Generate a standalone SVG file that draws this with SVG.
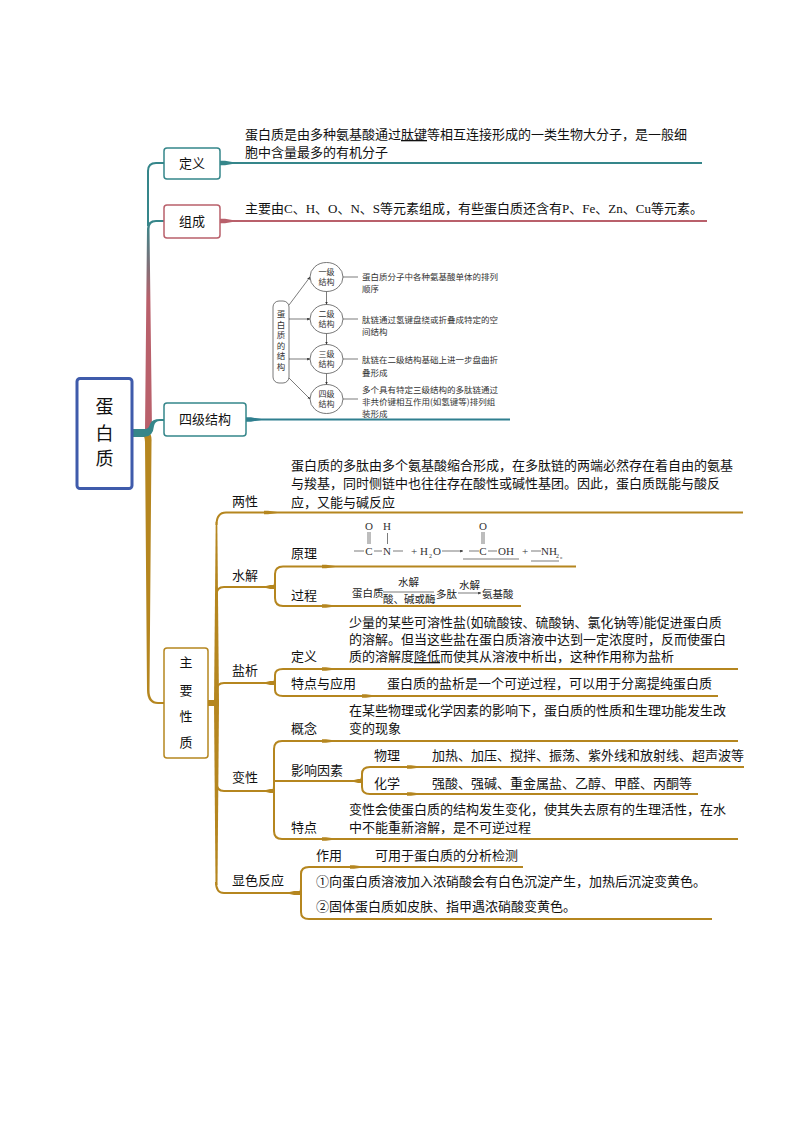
<svg xmlns="http://www.w3.org/2000/svg" width="794" height="1123" viewBox="0 0 794 1123">
<style>
text{font-family:"Noto Sans CJK SC","Liberation Sans",sans-serif;font-size:13px;fill:#111}
.s{font-size:8.500px;fill:#333}
.e{font-size:8px;fill:#333}
.f{font-family:"Liberation Serif","Noto Sans CJK SC",serif;font-size:11px;fill:#333}
.l{font-family:"Liberation Serif","Noto Sans CJK SC",serif}
.p{font-size:10.500px;fill:#222}
.g{fill:none;stroke:#b5861f;stroke-width:2}
.gf{fill:#b5861f}
.box{fill:#fff;stroke-width:1.500}
.thin{fill:none;stroke:#444;stroke-width:.7}
.u{text-decoration:underline}
</style>
<defs>
<linearGradient id="tr" gradientUnits="userSpaceOnUse" x1="0" y1="221" x2="0" y2="300"><stop offset="0" stop-color="#35868a"/><stop offset="1" stop-color="#b9606b"/></linearGradient>
<path id="taper" d="M0,-2.200 L5,-2.200 L18,0 L5,2.200 L0,2.200Z"/>
<path id="gt" class="gf" d="M0,-1.800 L4,-1.800 L17,0 L4,1.800 L0,1.800Z"/>
<marker id="ah" markerWidth="5" markerHeight="5" refX="4" refY="2" orient="auto"><path d="M0,0 L4,2 L0,4Z" fill="#333"/></marker>
</defs>
<g id="connectors">
<path d="M148,226 V171 Q148,163 156,163 H164" fill="none" stroke="#35868a" stroke-width="2"/>
<path d="M164,220 H156 Q147,220 147,229 L145,430 H152 L149.500,229 Q149.500,222 156,222 H164 Z" fill="url(#tr)"/>
<path d="M145,433 H148 Q152,433 151.500,442 L149.500,690 Q149.500,702 158,702 H164 V704 H158 Q147,704 147,690 L145,442 Q145,436 141,433 Z" fill="#b5861f"/>
<path d="M132,429 H145 Q149,429 150,424 Q152,419 160,419 H164 V421 H160 Q155,421 154,426 Q153,437 144,437 H132Z" fill="#35868a"/>
<path d="M220,163 H702" fill="none" stroke="#35868a" stroke-width="2"/>
<use href="#taper" x="220" y="163" fill="#35868a"/>
<path d="M220,221 H707" fill="none" stroke="#b9606b" stroke-width="2"/>
<use href="#taper" x="220" y="221" fill="#b9606b"/>
<path d="M246,419.500 H510" fill="none" stroke="#2f7f8f" stroke-width="2"/>
<use href="#taper" x="246" y="419.500" fill="#2f7f8f"/>
<path class="g" d="M216.500,525 Q216.500,512.500 226,512.500 H743"/>
<path d="M215.700,522 H217.300 L219,703 L217.500,885 H215.500 L214,703Z" class="gf"/>
<path class="g" d="M216,882 Q216,893 224,893 H296"/>
<path d="M208,700 H214 L216,697 L218,697 L218,706 H208Z" class="gf"/>
<path class="g" d="M216.500,595 Q216.500,587 224,587 H268"/>
<path class="g" d="M216.500,691 Q216.500,683 224,683 H268"/>
<path class="g" d="M216.500,782 Q216.500,791 224,791 H268"/>
<path class="g" d="M268,587 H272 Q275,587 275,582 V574 Q275,566.500 283,566.500 H576"/>
<path class="g" d="M275,582 V598 Q275,606 283,606 H521"/>
<path class="g" d="M268,683 H272 Q275,683 275,678 V675 Q275,669 283,669 H738"/>
<path class="g" d="M275,678 V690 Q275,696 283,696 H718"/>
<path class="g" d="M268,791 H272 Q274,791 274,785 V749 Q274,741 282,741 H738"/>
<path class="g" d="M274,785 V831 Q274,839 282,839 H738"/>
<path class="g" d="M274,781 H358 Q362,781 362,776 V774 Q362,767 370,767 H744"/>
<path class="g" d="M362,776 V787 Q362,794 370,794 H698"/>
<path class="g" d="M296,893 H298 Q301,893 301,888 V874 Q301,867 309,867 H523"/>
<path class="g" d="M301,888 V912 Q301,919 309,919 H712"/>
<use href="#gt" x="264" y="512.500"/><use href="#gt" x="322" y="566.500"/><use href="#gt" x="322" y="606"/>
<use href="#gt" x="322" y="669"/><use href="#gt" x="362" y="696"/><use href="#gt" x="322" y="741"/>
<use href="#gt" x="322" y="839"/><use href="#gt" x="407" y="767"/><use href="#gt" x="407" y="794"/>
<use href="#gt" x="350" y="867"/>
<path class="gf" d="M262,587 L270,585 H275 V589 H270Z M262,683 L270,681 H275 V685 H270Z M262,791 L270,789 H275 V793 H270Z M285,893 L294,891 H301 V895 H294Z M350,781 L358,779 H362 V783 H358Z"/>
</g>
<g id="root"><rect x="77" y="378.500" width="55" height="110" rx="3" fill="#fff" stroke="#3f5bab" stroke-width="3"/>
<text text-anchor="middle" style="font-size:18px"><tspan x="104.500" y="412.500">蛋</tspan><tspan x="104.500" y="439.500">白</tspan><tspan x="104.500" y="465">质</tspan></text></g>
<g id="node-def"><rect class="box" x="164" y="148" width="56" height="31" rx="3" stroke="#35868a"/><text x="192" y="168" text-anchor="middle">定义</text>
<text x="245" y="139">蛋白质是由多种氨基酸通过<tspan class="u">肽键</tspan>等相互连接形成的一类生物大分子，是一般细</text><text x="245" y="157">胞中含量最多的有机分子</text></g>
<g id="node-comp"><rect class="box" x="164" y="205" width="56" height="33" rx="3" stroke="#b9606b"/><text x="192" y="226" text-anchor="middle">组成</text>
<text class="l" x="245" y="213">主要由C、H、O、N、S等元素组成，有些蛋白质还含有P、Fe、Zn、Cu等元素。</text></g>
<g id="node-struct"><rect class="box" x="164" y="403" width="82" height="33" rx="3" stroke="#35868a"/><text x="205" y="424" text-anchor="middle">四级结构</text></g>
<g id="struct-figure">
<rect x="273" y="301" width="16" height="82" rx="6" fill="#fff" stroke="#555" stroke-width=".8"/>
<text class="s" text-anchor="middle"><tspan x="281" y="317">蛋</tspan><tspan x="281" y="327.500">白</tspan><tspan x="281" y="338">质</tspan><tspan x="281" y="348.500">的</tspan><tspan x="281" y="359">结</tspan><tspan x="281" y="369.500">构</tspan></text>
<g fill="#fff" stroke="#555" stroke-width=".8"><ellipse cx="326.500" cy="277" rx="16.500" ry="14.500"/><ellipse cx="326.500" cy="319" rx="16.500" ry="14.500"/><ellipse cx="326.500" cy="359" rx="16.500" ry="14.500"/><ellipse cx="326.500" cy="399" rx="16.500" ry="14.500"/></g>
<text class="e" text-anchor="middle"><tspan x="326.500" y="274.500">一级</tspan><tspan x="326.500" y="285">结构</tspan></text>
<text class="e" text-anchor="middle"><tspan x="326.500" y="316.500">二级</tspan><tspan x="326.500" y="327">结构</tspan></text>
<text class="e" text-anchor="middle"><tspan x="326.500" y="356.500">三级</tspan><tspan x="326.500" y="367">结构</tspan></text>
<text class="e" text-anchor="middle"><tspan x="326.500" y="396.500">四级</tspan><tspan x="326.500" y="407">结构</tspan></text>
<path class="thin" d="M289,305 L310,277" marker-end="url(#ah)"/><path class="thin" d="M289,319 H310" marker-end="url(#ah)"/><path class="thin" d="M289,359 H310" marker-end="url(#ah)"/><path class="thin" d="M289,378 L310,399" marker-end="url(#ah)"/><path class="thin" d="M326.500,291.500 V304.500" marker-end="url(#ah)"/><path class="thin" d="M326.500,333.500 V344.500" marker-end="url(#ah)"/><path class="thin" d="M326.500,373.500 V384.500" marker-end="url(#ah)"/>
<path class="thin" d="M343,277 H358 M343,319 H358 M343,359 H358 M343,399 H358"/>
<text class="s"><tspan x="362" y="280">蛋白质分子中各种氨基酸单体的排列</tspan><tspan x="362" y="292">顺序</tspan></text>
<text class="s"><tspan x="362" y="323">肽链通过氢键盘绕或折叠成特定的空</tspan><tspan x="362" y="335">间结构</tspan></text>
<text class="s"><tspan x="362" y="363">肽链在二级结构基础上进一步盘曲折</tspan><tspan x="362" y="376">叠形成</tspan></text>
<text class="s"><tspan x="362" y="393">多个具有特定三级结构的多肽链通过</tspan><tspan x="362" y="405">非共价键相互作用(如氢键等)排列组</tspan><tspan x="362" y="417">装形成</tspan></text>
</g>
<g id="node-main"><rect class="box" x="164" y="648" width="44" height="110" rx="3" stroke="#b5861f"/>
<text x="186" y="667" text-anchor="middle">主</text><text x="186" y="695" text-anchor="middle">要</text><text x="186" y="721" text-anchor="middle">性</text><text x="186" y="747" text-anchor="middle">质</text></g>
<g id="node-amph"><text x="232" y="506">两性</text>
<text x="291" y="470">蛋白质的多肽由多个氨基酸缩合形成，在多肽链的两端必然存在着自由的氨基</text><text x="291" y="488">与羧基，同时侧链中也往往存在酸性或碱性基团。因此，蛋白质既能与酸反</text><text x="291" y="507">应，又能与碱反应</text></g>
<g id="node-hydro"><text x="232" y="580">水解</text><text x="291" y="558">原理</text><text x="291" y="600">过程</text>
<text class="f" x="369" y="530" text-anchor="middle">O</text><text class="f" x="387" y="530" text-anchor="middle">H</text><text class="f" x="483" y="530" text-anchor="middle">O</text>
<path class="thin" d="M368,532 V544 M370,532 V544 M387.500,533 V544 M482,532 V544 M484,532 V544 M354,551 H364 M374,551 H382 M393,551 H403 M469,551 H479 M488,551 H497 M531,551 H541"/>
<text class="f" x="369" y="555" text-anchor="middle">C</text><text class="f" x="387" y="555" text-anchor="middle">N</text>
<text class="f" x="411" y="555">+ H</text><text class="f" style="font-size:6px" x="429" y="558">2</text><text class="f" x="433" y="555">O</text>
<path class="thin" d="M442,551 H463" marker-end="url(#ah)"/>
<text class="f" x="483" y="555" text-anchor="middle">C</text><text class="f" x="498" y="555">OH</text><text class="f" x="522" y="555">+</text><text class="f" x="541" y="555">NH</text><text class="f" style="font-size:6px" x="556" y="558">2</text><text class="f" style="font-size:6px" x="560" y="558">。</text>
<path class="thin" d="M463,559 H519 M531,561 H559"/>
<text class="p" x="352" y="597">蛋白质</text><text class="p" x="398" y="586">水解</text><path class="thin" d="M383,592 H434"/><text class="p" x="383" y="603">酸、碱或酶</text><text class="p" x="436" y="598">多肽</text>
<text class="p" x="459" y="589">水解</text><path class="thin" d="M458,593 H481" marker-end="url(#ah)"/><text class="p" x="482" y="598">氨基酸</text></g>
<g id="node-salt"><text x="232" y="675">盐析</text><text x="291" y="661">定义</text><text x="291" y="688">特点与应用</text>
<text x="349" y="627">少量的某些可溶性盐(如硫酸铵、硫酸钠、氯化钠等)能促进蛋白质</text><text x="349" y="644">的溶解。但当这些盐在蛋白质溶液中达到一定浓度时，反而使蛋白</text><text x="349" y="661">质的溶解度<tspan class="u">降低</tspan>而使其从溶液中析出，这种作用称为盐析</text>
<text x="387" y="688">蛋白质的盐析是一个可逆过程，可以用于分离提纯蛋白质</text></g>
<g id="node-denat"><text x="232" y="782">变性</text><text x="291" y="733">概念</text><text x="291" y="775">影响因素</text><text x="291" y="832">特点</text>
<text x="349" y="715">在某些物理或化学因素的影响下，蛋白质的性质和生理功能发生改</text><text x="349" y="733">变的现象</text>
<text x="374" y="760">物理</text><text x="432" y="760">加热、加压、搅拌、振荡、紫外线和放射线、超声波等</text><text x="374" y="788">化学</text><text x="432" y="788">强酸、强碱、重金属盐、乙醇、甲醛、丙酮等</text>
<text x="349" y="814">变性会使蛋白质的结构发生变化，使其失去原有的生理活性，在水</text><text x="349" y="832">中不能重新溶解，是不可逆过程</text></g>
<g id="node-color"><text x="232" y="885">显色反应</text><text x="316" y="860">作用</text><text x="375" y="860">可用于蛋白质的分析检测</text>
<text x="316" y="886">①向蛋白质溶液加入浓硝酸会有白色沉淀产生，加热后沉淀变黄色。</text><text x="316" y="911">②固体蛋白质如皮肤、指甲遇浓硝酸变黄色。</text></g>
</svg>
